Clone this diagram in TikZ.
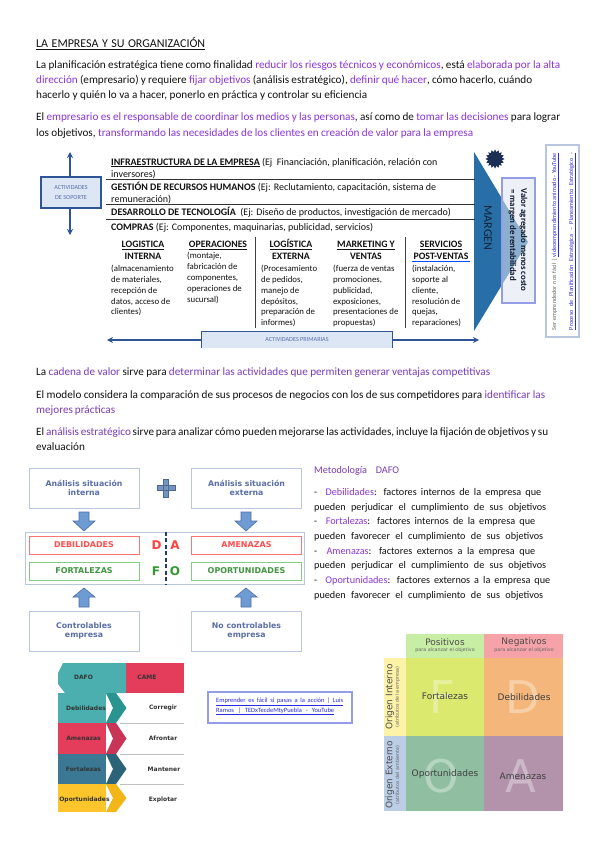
\documentclass[tikz,border=0pt]{standalone}
\usepackage{fontspec}
\setmainfont{Carlito}
\newfontfamily\dv{DejaVu Sans}
\usetikzlibrary{shapes.geometric,arrows.meta}
\definecolor{txt}{HTML}{111111}
\definecolor{pur}{HTML}{8A35D8}
\definecolor{purb}{HTML}{7A3BB8}
\definecolor{navy}{HTML}{2F5597}
\definecolor{linkc}{HTML}{2A2ADD}
\definecolor{soft}{HTML}{B9C6E0}
\definecolor{softtxt}{HTML}{5A6EA8}
\definecolor{blockc}{HTML}{6F9BD3}
\definecolor{pale}{HTML}{DCE6F5}
\definecolor{mPos}{HTML}{C8EEA5}\definecolor{mNeg}{HTML}{F5A3A8}
\definecolor{mF}{HTML}{DBE96E}\definecolor{mD}{HTML}{F4B67A}
\definecolor{mO}{HTML}{8FBFA0}\definecolor{mA}{HTML}{B393AB}
\definecolor{mI}{HTML}{FDF3A8}\definecolor{mE}{HTML}{BCCDE6}
\definecolor{teal1}{HTML}{4BAFAF}\definecolor{teal2}{HTML}{2A9490}
\definecolor{red1}{HTML}{E43D5B}\definecolor{red2}{HTML}{C93557}
\definecolor{blu1}{HTML}{3B7894}\definecolor{blu2}{HTML}{2B6478}
\definecolor{yel1}{HTML}{FBC52B}\definecolor{yel2}{HTML}{F3B617}
\newcommand{\pa}[1]{\textcolor{pur}{#1}}
\newcommand{\pb}[1]{\textcolor{purb}{#1}}
\newcommand{\tline}[5]{\node[anchor=base west,inner sep=0pt,text=txt,font=\fontsize{11.2}{12}\selectfont] (#1) at (#2,#3) {\makebox[#4pt][s]{#5}};}
\newcommand{\sline}[4]{\node[anchor=base west,inner sep=0pt,text=txt,font=\fontsize{8.8}{10}\selectfont] (#1) at (#2,#3) {#4};}
\newcommand{\dline}[4]{\node[anchor=base west,inner sep=0pt,text=txt,font=\fontsize{10.2}{11}\selectfont] (#1) at (314,#2) {\makebox[#3pt][s]{#4}};}
\newcommand{\blockdown}[2]{\fill[blockc,draw=navy!85,line width=.6pt] (#1-5,#2) -- (#1+5,#2) -- (#1+5,#2+9) -- (#1+11,#2+9) -- (#1,#2+19) -- (#1-11,#2+9) -- (#1-5,#2+9) -- cycle;}
\newcommand{\blockup}[2]{\fill[blockc,draw=navy!85,line width=.6pt] (#1-5,#2+19) -- (#1+5,#2+19) -- (#1+5,#2+9) -- (#1+11,#2+9) -- (#1,#2) -- (#1-11,#2+9) -- (#1-5,#2+9) -- cycle;}
\tikzset{
 head/.style={anchor=base west,inner sep=0pt,text=txt,font=\fontsize{10}{11}\selectfont},
 colhead/.style={anchor=base,inner sep=0pt,text=txt,font=\bfseries\fontsize{9.8}{11}\selectfont},
 rulel/.style={line width=.9pt,draw=black!80},
 arrowl/.style={draw=navy,line width=1.1pt,-{Stealth[length=6pt,width=6pt]}},
 softbox/.style={draw=soft,line width=1pt,fill=white,text=softtxt,font=\dv\bfseries\fontsize{7.8}{8.6}\selectfont,align=center,minimum height=40pt,minimum width=110pt,inner sep=0pt},
 redbox/.style={draw=red!55,line width=.7pt,fill=white,text=red!70,font=\dv\bfseries\fontsize{8}{9}\selectfont,minimum height=18pt,minimum width=110pt,inner sep=0pt},
 greenbox/.style={draw=green!60!black!50,line width=.7pt,fill=white,text=green!45!black!75,font=\dv\bfseries\fontsize{8}{9}\selectfont,minimum height=18pt,minimum width=110pt,inner sep=0pt},
 letter/.style={font=\dv\bfseries\fontsize{12}{14}\selectfont,inner sep=0pt},
 camel/.style={font=\dv\bfseries\fontsize{6}{7}\selectfont,text=black!80,inner sep=0pt},
 mcell/.style={inner sep=0pt,font=\dv\fontsize{9}{10}\selectfont,text=black!75},
 big/.style={font=\dv\fontsize{45}{47}\selectfont,text=white,opacity=.35,inner sep=0pt},
 mhead/.style={inner sep=0pt,font=\dv\fontsize{9}{10}\selectfont,text=black!70},
 msub/.style={inner sep=0pt,font=\dv\fontsize{4.8}{5.5}\selectfont,text=black!60},
}
\begin{document}
\begin{tikzpicture}[x=1pt,y=-1pt]
\useasboundingbox[fill=white] (0,0) rectangle (599,848);
% ---- heading and paragraphs
\node[anchor=base west,inner sep=0pt,text=txt,font=\fontsize{12}{13}\selectfont] (title) at (36,47.5) {\underline{\makebox[169pt][s]{LA EMPRESA Y SU ORGANIZACIÓN}}};
\tline{p1}{36}{69}{524}{La planificación estratégica tiene como finalidad \pa{reducir los riesgos técnicos y económicos}, está \pa{elaborada por la alta}}
\tline{p2}{36}{84}{496}{\pa{dirección} (empresario) y requiere \pa{fijar objetivos} (análisis estratégico), \pa{definir qué hacer}, cómo hacerlo, cuándo}
\tline{p3}{36}{99}{331}{hacerlo y quién lo va a hacer, ponerlo en práctica y controlar su eficiencia}
\tline{p4}{36}{121}{524}{El \pa{empresario es el responsable de coordinar los medios y las personas}, así como de \pa{tomar las decisiones} para lograr}
\tline{p5}{36}{136}{437}{los objetivos, \pa{transformando las necesidades de los clientes en creación de valor para la empresa}}
% ---- value chain
\node[draw=navy,line width=1.1pt,fill=pale,minimum width=60pt,minimum height=31pt,inner sep=0pt,align=center,text=softtxt,font=\fontsize{6.2}{10}\selectfont] (act) at (71,192.5) {ACTIVIDADES\\DE SOPORTE};
\coordinate (actup) at (70,152);
\coordinate (actdn) at (70,235);
\draw[arrowl] (act.north -| actup) -- (actup);
\draw[arrowl] (act.south -| actdn) -- (actdn);
\coordinate (tA) at (474,152);
\coordinate (tB) at (528,242);
\coordinate (tC) at (474,331);
\fill[navy!85!cyan] (tA) -- (tB) -- (tC) -- cycle;
\node[rotate=-90,inner sep=0pt,text=navy!40!black,font=\fontsize{12}{13}\selectfont] (margen) at (488,228) {MARGEN};
\node[draw=soft!80!blue,line width=1.2pt,fill=soft!45,fill opacity=.55,minimum width=33pt,minimum height=125pt,inner sep=0pt] (valbox) at (518.5,240.5) {};
\node[rotate=-90,anchor=base,inner sep=0pt,text=navy!30!black,font=\bfseries\fontsize{8.8}{9}\selectfont] (val1) at (521,240) {Valor agregado menos costo};
\node[rotate=-90,anchor=base,inner sep=0pt,text=navy!30!black,font=\bfseries\fontsize{8.8}{9}\selectfont] (val2) at (510,235) {= margen de rentabilidad};
\node[star,star points=16,star point ratio=1.35,fill=navy!55!black,minimum size=19pt,inner sep=0pt] (starx) at (495,159) {};
\node[draw=soft,line width=1.1pt,fill=white,minimum width=33pt,minimum height=192pt,inner sep=0pt] (linkv) at (562.5,241) {};
\node[rotate=90,anchor=base,inner sep=0pt,font=\fontsize{6.1}{7}\selectfont,text=black!60] (lv1) at (556,241.5) {\makebox[177pt][s]{Ser emprendedor nos fácil | \textcolor{linkc}{\underline{videoemprendimiento animado - YouTube}}}};
\node[rotate=90,anchor=base,inner sep=0pt,font=\fontsize{6.1}{7}\selectfont,text=linkc] (lv2) at (573,241.5) {\underline{\makebox[177pt][s]{Proceso de Planificación Estratégica – Planeamiento Estratégico -}}};
\node[head] (h1) at (111,165) {\textbf{\underline{INFRAESTRUCTURA DE LA EMPRESA}} (Ej~ Financiación, planificación, relación con};
\node[head] (h1b) at (111,177) {inversores)};
\coordinate (r1a) at (106,179); \coordinate (r1b) at (475,179);
\draw[rulel] (r1a) -- (r1b);
\node[head] (h2) at (111,190.5) {\textbf{GESTIÓN DE RECURSOS HUMANOS} (Ej: Reclutamiento, capacitación, sistema de};
\node[head] (h2b) at (111,202) {remuneración)};
\coordinate (r2a) at (106,204); \coordinate (r2b) at (475,204);
\draw[rulel] (r2a) -- (r2b);
\node[head] (h3) at (111,215.5) {\textbf{DESARROLLO DE TECNOLOGÍA}~ (Ej: Diseño de productos, investigación de mercado)};
\coordinate (r3a) at (106,219); \coordinate (r3b) at (475,219);
\draw[rulel] (r3a) -- (r3b);
\node[head] (h4) at (111,230) {\textbf{COMPRAS} (Ej: Componentes, maquinarias, publicidad, servicios)};
% columns
\coordinate (v1a) at (255,237); \coordinate (v1b) at (255,328);
\coordinate (v2a) at (405,237); \coordinate (v2b) at (405,328);
\draw[line width=.8pt,draw=black!75] (v1a) -- (v1b);
\draw[line width=.8pt,draw=black!75] (v2a) -- (v2b);
\node[colhead] (c1a) at (143,247.5) {\underline{LOGISTICA}};
\node[colhead] (c1b) at (143,259.5) {INTERNA};
\sline{c1c}{111}{271.5}{(almacenamiento}
\sline{c1d}{111}{282.5}{de materiales,}
\sline{c1e}{111}{293}{recepción de}
\sline{c1f}{111}{304}{datos, acceso de}
\sline{c1g}{111}{314.5}{clientes)}
\node[colhead] (c2a) at (218,247.5) {\underline{OPERACIONES}};
\sline{c2b}{187}{258.5}{(montaje,}
\sline{c2c}{187}{269.5}{fabricación de}
\sline{c2d}{187}{280}{componentes,}
\sline{c2e}{187}{291}{operaciones de}
\sline{c2f}{187}{302}{sucursal)}
\node[colhead] (c3a) at (291,247.5) {\underline{LOGÍSTICA}};
\node[colhead] (c3b) at (291,259.5) {EXTERNA};
\sline{c3c}{261}{271.5}{(Procesamiento}
\sline{c3d}{261}{282.5}{de pedidos,}
\sline{c3e}{261}{293}{manejo de}
\sline{c3f}{261}{304}{depósitos,}
\sline{c3g}{261}{314.5}{preparación de}
\sline{c3h}{261}{325.5}{informes)}
\node[colhead] (c4a) at (366,247.5) {\underline{MARKETING Y}};
\node[colhead] (c4b) at (366,259.5) {VENTAS};
\sline{c4c}{333}{271.5}{(fuerza de ventas}
\sline{c4d}{333}{282.5}{promociones,}
\sline{c4e}{333}{293}{publicidad,}
\sline{c4f}{333}{304}{exposiciones,}
\sline{c4g}{333}{314.5}{presentaciones de}
\sline{c4h}{333}{325.5}{propuestas)}
\node[colhead] (c5a) at (441,247.5) {\underline{SERVICIOS}};
\node[colhead] (c5b) at (441,259.5) {POST-VENTAS};
\coordinate (u5a) at (412,261.5); \coordinate (u5b) at (470,261.5);
\draw[draw=blue!70!cyan,line width=.9pt] (u5a) -- (u5b);
\sline{c5c}{412}{271.5}{(instalación,}
\sline{c5d}{412}{282.5}{soporte al}
\sline{c5e}{412}{293}{cliente,}
\sline{c5f}{412}{304}{resolución de}
\sline{c5g}{412}{314.5}{quejas,}
\sline{c5h}{412}{325.5}{reparaciones)}
\node[fill=pale,minimum width=190pt,minimum height=16pt,inner sep=0pt,text=softtxt,font=\fontsize{6.2}{8}\selectfont] (prim) at (297,340) {ACTIVIDADES PRIMARIAS};
\draw[draw=navy,line width=1.1pt] (prim.south west) |- (prim.north east) -- (prim.south east);
\coordinate (pl) at (107,340); \coordinate (pr) at (479,340);
\draw[arrowl] (prim.west) -- (pl);
\draw[arrowl] (prim.east) -- (pr);
% ---- middle paragraphs
\tline{m1}{36}{375}{454}{La \pb{cadena de valor} sirve para \pb{determinar las actividades que permiten generar ventajas competitivas}}
\tline{m2}{36}{398}{509}{El modelo considera la comparación de sus procesos de negocios con los de sus competidores para \pb{identificar las}}
\tline{m3}{36}{413}{79}{\pb{mejores prácticas}}
\tline{m4}{36}{435}{512}{El \pb{análisis estratégico} sirve para analizar cómo pueden mejorarse las actividades, incluye la fijación de objetivos y su}
\tline{m5}{36}{450}{48}{evaluación}
% ---- DAFO diagram
\node[softbox] (ai) at (84,488) {Análisis situación\\interna};
\node[softbox] (ae) at (246.5,488) {Análisis situación\\externa};
\fill[blockc!80!gray,draw=navy!60!gray,line width=.4pt] (163.5,479) rectangle (168.5,497) (157,485.5) rectangle (175,490.5);
\blockdown{84}{512}
\blockdown{246}{512}
\node[draw=soft,line width=1pt,minimum width=279pt,minimum height=52pt,inner sep=0pt] (dafobox) at (164.5,558) {};
\node[redbox] (deb) at (84,545) {DEBILIDADES};
\node[redbox] (ame) at (246.5,545) {AMENAZAS};
\node[greenbox] (fort) at (84,571) {FORTALEZAS};
\node[greenbox] (opor) at (246.5,571) {OPORTUNIDADES};
\coordinate (dsh) at (166,558);
\draw[draw=navy!70!black,line width=1.7pt,dash pattern=on 4pt off 2.5pt] (dafobox.north -| dsh) -- (dafobox.south -| dsh);
\node[letter,text=red!75] (ld) at (156.5,545.5) {D};
\node[letter,text=red!75] (la) at (175,545.5) {A};
\node[letter,text=green!50!black!80] (lf) at (156,571.5) {F};
\node[letter,text=green!50!black!80] (lo) at (175,571.5) {O};
\blockup{84}{588}
\blockup{246}{588}
\node[softbox] (ci) at (84,631) {Controlables\\empresa};
\node[softbox] (ce) at (246.5,631) {No controlables\\empresa};
% ---- DAFO text
\node[anchor=base west,inner sep=0pt,text=purb,font=\fontsize{10.2}{11}\selectfont] (d0) at (314,473) {\makebox[85pt][s]{Metodología DAFO}};
\dline{d1}{495}{227}{-~ \pa{Debilidades}: factores internos de la empresa que}
\dline{d2}{510}{232}{pueden perjudicar el cumplimiento de sus objetivos}
\dline{d3}{524.5}{221}{-~ \pa{Fortalezas}: factores internos de la empresa que}
\dline{d4}{539.5}{229}{pueden favorecer el cumplimiento de sus objetivos}
\dline{d5}{554}{221}{-~ \pa{Amenazas}: factores externos a la empresa que}
\dline{d6}{568.5}{232}{pueden perjudicar el cumplimiento de sus objetivos}
\dline{d7}{583}{236}{-~ \pa{Oportunidades}: factores externos a la empresa que}
\dline{d8}{598}{229}{pueden favorecer el cumplimiento de sus objetivos}
% ---- DAFO/CAME table
\fill[teal1] (63,663) -- (126,663) -- (126,693) -- (65,693) -- (58,684) -- (58,673) -- cycle;
\fill[red1] (126,663) rectangle (184,693);
\foreach \ya/\yb/\ca/\cb in {693/723/teal1/teal2,723/754/red1/red2,754/784/blu1/blu2,784/812/yel1/yel2}{
 \fill[\ca] (58,\ya) rectangle (106,\yb);
 \fill[\cb] (106,\ya) -- (116,\ya) -- (126.5,{(\ya+\yb)/2}) -- (116,\yb) -- (106,\yb) -- (113,{(\ya+\yb)/2}) -- cycle;
}
\draw[black!25,line width=1pt] (120,723.5) -- (184,723.5) (120,754.5) -- (184,754.5) (120,784.5) -- (184,784.5);
\node[camel] (k1) at (83.5,677) {DAFO};
\node[camel] (k2) at (147,677) {CAME};
\node[camel] (k3) at (86,708) {Debilidades};
\node[camel] (k4) at (83.5,738) {Amenazas};
\node[camel] (k5) at (83.5,769) {Fortalezas};
\node[camel] (k6) at (84.5,799.5) {Oportunidades};
\node[camel] (k7) at (163,708) {Corregir};
\node[camel] (k8) at (163,738) {Afrontar};
\node[camel] (k9) at (164,769) {Mantener};
\node[camel] (k10) at (163,799.5) {Explotar};
% ---- link box
\node[draw=soft!80!blue,line width=1.1pt,fill=white,minimum width=144pt,minimum height=31pt,inner sep=0pt] (linkb) at (280,707.5) {};
\node[anchor=base west,inner sep=0pt,text=linkc,font=\fontsize{6.5}{7}\selectfont] (lb1) at (216,702.5) {\underline{\makebox[127pt][s]{Emprender es fácil si pasas a la acción | Luis}}};
\node[anchor=base west,inner sep=0pt,text=linkc,font=\fontsize{6.5}{7}\selectfont] (lb2) at (216,712) {\underline{\makebox[118pt][s]{Ramos | TEDxTecdeMtyPuebla - YouTube}}};
% ---- SWOT matrix
\fill[mPos] (406,634) rectangle (484,658);
\fill[mNeg] (484,634) rectangle (563,658);
\fill[mF] (406,658) rectangle (484,736);
\fill[mD] (484,658) rectangle (563,736);
\fill[mO] (406,736) rectangle (484,811);
\fill[mA] (484,736) rectangle (563,811);
\fill[mI] (384,658) rectangle (406,736);
\fill[mE] (384,736) rectangle (406,811);
\node[big] (bF) at (442,697) {F};
\node[big] (bD) at (523,697) {D};
\node[big] (bO) at (441,776) {O};
\node[big] (bA) at (521,776) {A};
\node[mhead] (mp) at (445,642) {Positivos};
\node[msub] (mps) at (445,650.5) {para alcanzar el objetivo};
\node[mhead] (mn) at (524,642) {Negativos};
\node[msub] (mns) at (524,650.5) {para alcanzar el objetivo};
\node[mcell] (mf) at (445,696) {Fortalezas};
\node[mcell] (md) at (524,697) {Debilidades};
\node[mcell] (mo) at (445,774.5) {Oportunidades};
\node[mcell] (ma) at (523,776) {Amenazas};
\node[mhead,rotate=90] (oi) at (390,697) {Origen Interno};
\node[msub,rotate=90] (ois) at (397.5,697) {(atributos de la empresa)};
\node[mhead,rotate=90] (oe) at (390,775) {Origen Externo};
\node[msub,rotate=90] (oes) at (397.5,775) {(atributos del ambiente)};
\end{tikzpicture}
\end{document}
